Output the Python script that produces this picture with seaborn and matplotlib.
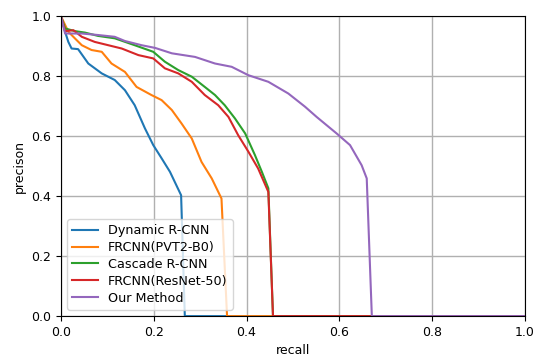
import numpy as np
import pandas as pd
import matplotlib
matplotlib.use("Agg")
import matplotlib.pyplot as plt
import seaborn as sns

# precision/recall curves
dyn_recall = [0.0, 0.009, 0.016, 0.023, 0.037, 0.059, 0.088, 0.116, 0.138, 0.159, 0.181, 0.199, 0.217, 0.235, 0.259, 0.267, 1.0]
dyn_prec = [1.0, 0.948, 0.914, 0.892, 0.89, 0.842, 0.809, 0.787, 0.753, 0.703, 0.626, 0.57, 0.526, 0.481, 0.403, 0.0, 0.0]

pvt_recall = [0.0, 0.016, 0.03, 0.045, 0.066, 0.088, 0.109, 0.138, 0.163, 0.195, 0.217, 0.239, 0.26, 0.282, 0.303, 0.325, 0.346, 0.358, 1.0]
pvt_prec = [1.0, 0.948, 0.926, 0.903, 0.887, 0.881, 0.842, 0.814, 0.764, 0.737, 0.72, 0.687, 0.642, 0.592, 0.514, 0.459, 0.392, 0.0, 0.0]

cas_recall = [0.0, 0.009, 0.03, 0.052, 0.08, 0.116, 0.159, 0.199, 0.224, 0.253, 0.282, 0.31, 0.332, 0.353, 0.375, 0.397, 0.418, 0.433, 0.447, 0.457, 1.0]
cas_prec = [1.0, 0.959, 0.95, 0.945, 0.934, 0.926, 0.903, 0.881, 0.848, 0.82, 0.798, 0.764, 0.737, 0.703, 0.659, 0.609, 0.537, 0.481, 0.426, 0.0, 0.0]

res_recall = [0.0, 0.009, 0.027, 0.045, 0.073, 0.102, 0.131, 0.167, 0.199, 0.224, 0.253, 0.282, 0.31, 0.339, 0.361, 0.382, 0.404, 0.425, 0.447, 0.457, 1.0]
res_prec = [1.0, 0.95, 0.953, 0.931, 0.914, 0.903, 0.892, 0.87, 0.859, 0.826, 0.809, 0.781, 0.737, 0.703, 0.664, 0.603, 0.548, 0.492, 0.414, 0.0, 0.0]

our_recall = [0.0, 0.009, 0.045, 0.08, 0.116, 0.138, 0.174, 0.203, 0.239, 0.289, 0.332, 0.368, 0.404, 0.447, 0.49, 0.526, 0.551, 0.594, 0.623, 0.648, 0.659, 0.67, 1.0]
our_prec = [1.0, 0.942, 0.942, 0.937, 0.931, 0.917, 0.903, 0.894, 0.876, 0.864, 0.842, 0.831, 0.803, 0.781, 0.742, 0.698, 0.664, 0.609, 0.57, 0.503, 0.459, 0.0, 0.0]

names = ['Dynamic R-CNN', 'FRCNN(PVT2-B0)', 'Cascade R-CNN', 'FRCNN(ResNet-50)', 'Our Method']
curves = [(dyn_recall, dyn_prec), (pvt_recall, pvt_prec), (cas_recall, cas_prec),
          (res_recall, res_prec), (our_recall, our_prec)]
colors = ['#1f77b4', '#ff7f0e', '#2ca02c', '#d62728', '#9467bd']

fig, ax = plt.subplots(figsize=(5.39, 3.58), dpi=100)
fig.subplots_adjust(left=0.113, right=0.974, top=0.955, bottom=0.117)

for nm, (r, p), c in zip(names, curves, colors):
    df = pd.DataFrame({'recall': r, 'precison': p})
    sns.lineplot(data=df, x='recall', y='precison', sort=False, color=c, label=nm, ax=ax, linewidth=1.5)

ax.set_xlim(0, 1)
ax.set_ylim(0, 1)
ax.grid(True, color='#b0b0b0', linewidth=1)
ax.set_axisbelow(True)
ax.legend(loc='lower left', fontsize=9.2, labelspacing=0.3)
ax.set_xlabel('recall', fontsize=9)
ax.set_ylabel('precison', fontsize=9)
ax.tick_params(labelsize=9)

plt.savefig("out.png", dpi=100)
